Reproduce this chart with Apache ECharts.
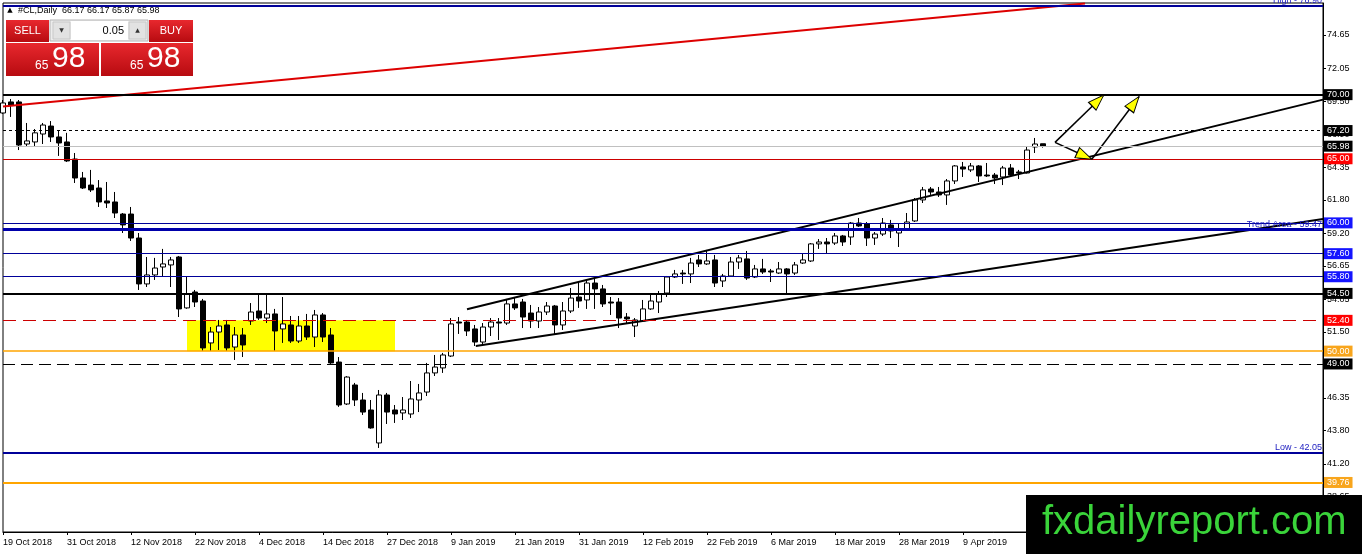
<!DOCTYPE html>
<html>
<head>
<meta charset="utf-8">
<script src="https://cdn.jsdelivr.net/npm/echarts@6/dist/echarts.min.js"></script>
<style>
  html, body { margin: 0; padding: 0; background: #fff; }
  #chart { width: 1362px; height: 554px; }
</style>
</head>
<body>
<div id="chart"></div>
<script>
// ---------- data ----------
var dates = ['19 Oct 2018','22 Oct 2018','23 Oct 2018','24 Oct 2018','25 Oct 2018','26 Oct 2018','29 Oct 2018','30 Oct 2018','31 Oct 2018',
  '1 Nov 2018','2 Nov 2018','5 Nov 2018','6 Nov 2018','7 Nov 2018','8 Nov 2018','9 Nov 2018','12 Nov 2018','13 Nov 2018','14 Nov 2018','15 Nov 2018','16 Nov 2018','19 Nov 2018','20 Nov 2018','21 Nov 2018','22 Nov 2018','23 Nov 2018','26 Nov 2018','27 Nov 2018','28 Nov 2018','29 Nov 2018','30 Nov 2018',
  '3 Dec 2018','4 Dec 2018','5 Dec 2018','6 Dec 2018','7 Dec 2018','10 Dec 2018','11 Dec 2018','12 Dec 2018','13 Dec 2018','14 Dec 2018','17 Dec 2018','18 Dec 2018','19 Dec 2018','20 Dec 2018','21 Dec 2018','24 Dec 2018','26 Dec 2018','27 Dec 2018','28 Dec 2018','31 Dec 2018',
  '2 Jan 2019','3 Jan 2019','4 Jan 2019','7 Jan 2019','8 Jan 2019','9 Jan 2019','10 Jan 2019','11 Jan 2019','14 Jan 2019','15 Jan 2019','16 Jan 2019','17 Jan 2019','18 Jan 2019','21 Jan 2019','22 Jan 2019','23 Jan 2019','24 Jan 2019','25 Jan 2019','28 Jan 2019','29 Jan 2019','30 Jan 2019','31 Jan 2019',
  '1 Feb 2019','4 Feb 2019','5 Feb 2019','6 Feb 2019','7 Feb 2019','8 Feb 2019','11 Feb 2019','12 Feb 2019','13 Feb 2019','14 Feb 2019','15 Feb 2019','18 Feb 2019','19 Feb 2019','20 Feb 2019','21 Feb 2019','22 Feb 2019','25 Feb 2019','26 Feb 2019','27 Feb 2019','28 Feb 2019',
  '1 Mar 2019','4 Mar 2019','5 Mar 2019','6 Mar 2019','7 Mar 2019','8 Mar 2019','11 Mar 2019','12 Mar 2019','13 Mar 2019','14 Mar 2019','15 Mar 2019','18 Mar 2019','19 Mar 2019','20 Mar 2019','21 Mar 2019','22 Mar 2019','25 Mar 2019','26 Mar 2019','27 Mar 2019','28 Mar 2019','29 Mar 2019',
  '1 Apr 2019','2 Apr 2019','3 Apr 2019','4 Apr 2019','5 Apr 2019','8 Apr 2019','9 Apr 2019','10 Apr 2019','11 Apr 2019','12 Apr 2019','15 Apr 2019','16 Apr 2019','17 Apr 2019','18 Apr 2019','22 Apr 2019','23 Apr 2019','24 Apr 2019'];

var opens = [68.57,69.43,69.43,66.15,66.31,66.93,67.55,66.70,66.31,64.98,
  63.50,62.95,62.72,61.71,61.63,60.69,60.69,58.82,55.24,55.94,
  56.56,56.72,57.34,53.37,54.61,53.91,50.64,51.49,52.04,50.32,
  51.26,52.35,53.13,52.58,52.90,51.73,52.04,50.79,51.96,51.10,
  52.82,51.26,49.15,45.88,47.36,46.19,45.41,42.84,46.58,45.41,
  45.18,45.10,46.19,46.81,48.30,48.69,49.62,52.27,52.27,51.73,
  50.71,51.88,52.27,52.19,53.68,53.83,52.97,52.35,53.05,53.52,
  52.04,53.13,54.22,53.99,55.31,54.85,53.83,53.83,52.66,51.96,
  52.35,53.29,53.83,54.53,55.78,56.09,56.02,57.11,56.80,57.11,
  55.47,55.86,56.95,57.19,55.78,56.41,56.25,56.09,56.41,56.09,
  56.87,57.03,58.36,58.51,58.43,58.98,58.90,59.99,59.91,58.82,
  59.13,59.84,59.21,59.45,60.15,61.79,62.64,62.41,62.18,63.27,
  64.36,64.13,64.44,63.73,63.73,63.58,64.28,63.97,63.89,65.92,
  66.17];
var closes = [69.35,69.19,66.07,66.39,67.02,67.63,66.70,66.23,64.83,63.50,
  62.72,62.57,61.63,61.55,60.77,59.84,58.82,55.24,55.94,56.48,
  56.80,57.11,53.29,54.46,53.83,50.25,51.49,51.96,50.25,51.26,
  50.48,53.05,52.58,52.90,51.57,52.12,50.79,51.96,51.10,52.82,
  51.10,49.08,45.80,47.98,46.19,45.25,44.01,46.58,45.25,45.10,
  45.41,46.27,46.74,48.30,48.76,49.70,52.12,52.19,51.57,50.71,
  51.88,52.27,52.19,53.68,53.37,52.66,52.35,53.05,53.52,52.04,
  53.13,54.14,53.91,55.31,54.85,53.68,53.75,52.58,52.51,52.43,
  53.29,53.91,54.46,55.78,56.02,56.02,56.87,56.80,57.03,55.31,
  55.86,56.95,57.27,55.70,56.41,56.17,56.17,56.41,56.02,56.72,
  57.11,58.36,58.51,58.36,58.98,58.51,59.99,59.76,58.82,59.13,
  59.99,59.37,59.45,60.07,61.79,62.57,62.41,62.18,63.27,64.44,
  64.20,64.44,63.66,63.66,63.50,64.28,63.73,63.89,65.68,66.15,
  65.98];
var lows = [68.50,68.26,65.68,65.92,65.92,66.15,66.31,65.22,64.75,63.11,
  62.64,62.41,61.24,61.16,60.38,59.21,58.59,54.77,55.00,55.55,
  55.78,55.00,52.66,53.30,53.44,50.01,50.01,50.09,50.01,49.31,
  49.54,52.04,52.43,52.19,50.01,50.64,50.64,50.64,50.87,50.32,
  50.71,49.00,45.65,45.80,45.72,45.02,43.95,42.45,44.32,44.40,
  44.63,44.79,45.25,46.50,48.06,48.30,49.54,51.34,51.18,50.40,
  50.48,51.18,50.87,52.04,53.21,51.80,51.80,51.80,52.82,51.34,
  51.65,52.97,53.37,53.29,53.29,53.44,52.82,51.80,52.19,51.10,
  52.27,53.21,52.97,54.22,55.70,55.24,55.31,56.56,56.72,55.00,
  55.00,55.78,56.41,55.55,55.70,56.02,55.39,56.02,54.53,55.94,
  56.80,56.95,57.97,57.65,58.28,58.20,58.28,59.68,58.20,58.28,
  58.98,58.82,58.12,59.37,60.07,61.55,62.18,62.02,61.40,63.03,
  63.58,63.97,63.19,63.58,63.03,62.95,63.58,63.42,63.85,65.45,
  65.87];
var highs = [69.58,69.66,69.58,67.79,67.32,67.79,67.94,67.24,67.02,65.45,
  63.97,64.13,63.34,63.19,62.41,60.77,61.24,59.21,57.34,57.27,
  57.97,57.34,57.42,55.78,54.77,54.07,51.88,52.43,52.43,51.88,
  51.80,53.75,54.38,54.46,53.29,54.22,52.74,52.74,52.90,53.21,
  52.97,51.80,49.54,48.05,47.52,46.74,46.19,46.97,46.74,45.80,
  46.42,47.67,47.44,49.08,49.70,49.86,52.58,52.66,52.43,52.04,
  52.19,52.58,52.58,54.07,54.14,54.07,53.60,53.44,53.83,53.60,
  53.83,54.92,55.39,55.55,55.70,55.16,54.22,54.14,52.97,52.58,
  53.99,54.38,54.69,55.86,56.33,56.33,57.27,57.50,57.89,57.50,
  56.02,57.34,57.50,57.81,56.72,57.19,56.41,56.95,56.48,56.95,
  57.58,58.43,58.74,58.82,59.21,59.06,60.07,60.38,60.07,59.29,
  60.38,60.23,59.99,60.77,61.94,62.80,62.80,62.80,63.42,64.51,
  64.75,64.67,64.51,64.67,63.89,64.44,64.59,64.13,65.92,66.62,
  66.17];

var priceTicks = [74.65, 72.05, 69.50, 66.90, 64.35, 61.80, 59.20, 56.65, 54.05, 51.50, 48.90, 46.35, 43.80, 41.20, 38.65];
var levelPrices = [76.90, 70.00, 67.20, 65.98, 65.00, 60.00, 59.47, 57.60, 55.80, 54.50, 52.40, 50.00, 49.00, 42.05, 39.76];
var levelNotes = ['High - 76.90', '', '', '', '', '', 'Trend Area - 59.47', '', '', '', '', '', '', 'Low - 42.05', ''];

// trend lines: [bar index, price]
var channelTop = [[58, 53.26], [165, 69.61]];
var channelBottom = [[59.1, 50.40], [165, 60.30]];
var redTrend = [[0, 69.08], [135.25, 77.10]];
var zoneBox = [[23, 52.40], [49, 50.00]];
// arrows: from, to
var arrows = [
  [[131.5, 66.28], [137.6, 69.97]],
  [[131.5, 66.28], [136.1, 64.96]],
  [[136.1, 64.96], [142.0, 69.84]]
];

var symbolName = '#CL,Daily';
var quote = [66.17, 66.17, 65.87, 65.98];
var lot = '0.05';

// ---------- build ----------
var TOTAL_SLOTS = 166;
var cats = dates.slice();
while (cats.length < TOTAL_SLOTS) cats.push('');

var ohlc = opens.map(function (o, i) { return [o, closes[i], lows[i], highs[i]]; });

var FONT = "'Liberation Sans', Arial, sans-serif";
var NAVY = '#000099';

// style per level, same order as levelPrices
var levelLook = [
  { c: NAVY, w: 2 },
  { c: '#000', w: 2, tag: '#000' },
  { c: '#000', w: 1, dash: [3, 3], tag: '#000' },
  { c: '#c0c0c0', w: 1, tag: '#000' },
  { c: '#cc0000', w: 1, tag: '#ff0000' },
  { c: NAVY, w: 1, tag: '#1414ff' },
  { c: '#0000aa', w: 3 },
  { c: NAVY, w: 1, tag: '#1414ff' },
  { c: NAVY, w: 1, tag: '#1414ff' },
  { c: '#000', w: 2, tag: '#000' },
  { c: '#cc0000', w: 1, dash: [13, 7], tag: '#ff0000' },
  { c: '#ffa500', w: 1.5, tag: '#f8a51c' },
  { c: '#000', w: 1, dash: [12, 6], tag: '#000' },
  { c: NAVY, w: 2 },
  { c: '#ffa500', w: 2, tag: '#f8a51c' }
];

var levelLines = levelPrices.map(function (v, i) {
  var lk = levelLook[i];
  var label;
  if (levelNotes[i]) {
    label = { show: true, position: 'insideEndTop', distance: 1, formatter: levelNotes[i],
      color: '#2020c0', fontSize: 9, fontFamily: FONT };
  } else {
    label = { show: true, position: 'end', distance: 1, formatter: v.toFixed(2),
      color: '#fff', backgroundColor: lk.tag, padding: [1, 3, 0, 3], lineHeight: 10,
      fontSize: 9, fontFamily: FONT };
  }
  return {
    yAxis: v,
    lineStyle: { color: lk.c, width: lk.w, type: lk.dash ? lk.dash : 'solid' },
    label: label
  };
});

function lineSeries(id, pts, color, width, z) {
  return {
    id: id, type: 'line', xAxisIndex: 1, yAxisIndex: 0, data: pts,
    showSymbol: false, symbol: 'none', silent: true, z: z,
    lineStyle: { color: color, width: width }
  };
}

var series = [
  {
    id: 'zone', type: 'line', xAxisIndex: 1, yAxisIndex: 0, data: [], z: 1, silent: true,
    markArea: {
      silent: true,
      itemStyle: { color: '#ffff00', opacity: 1 },
      data: [[{ coord: zoneBox[0] }, { coord: zoneBox[1] }]]
    }
  },
  {
    id: 'candles', type: 'candlestick', data: ohlc, barWidth: 5, z: 2, clip: true,
    itemStyle: { color: '#fff', color0: '#000', borderColor: '#000', borderColor0: '#000', borderWidth: 1 },
    markLine: { silent: true, symbol: ['none', 'none'], animation: false, data: levelLines }
  },
  lineSeries('red', redTrend, '#dd0000', 2, 3),
  lineSeries('chTop', channelTop, '#000', 2, 3),
  lineSeries('chBot', channelBottom, '#000', 2, 3)
];
arrows.forEach(function (a, k) { series.push(lineSeries('arrow' + k, a, '#000', 1.5, 4)); });
series.push({
  id: 'heads', type: 'scatter', xAxisIndex: 1, yAxisIndex: 0, z: 5, silent: true,
  symbol: 'triangle', symbolSize: [11, 16],
  itemStyle: { color: '#ffff00', borderColor: '#000', borderWidth: 1, opacity: 1 },
  data: []
});

var red = new echarts.graphic.LinearGradient(0, 0, 0, 1, [
  { offset: 0, color: '#e8282e' }, { offset: 1, color: '#b70b10' }
]);

function txt(x, y, s, font, fill, align) {
  return { type: 'text', x: x, y: y, z: 100, silent: true,
    style: { text: s, font: font, fill: fill, align: align || 'left', verticalAlign: 'middle' } };
}
function box(x, y, w, h, fill, stroke) {
  return { type: 'rect', z: 100, silent: true, shape: { x: x, y: y, width: w, height: h },
    style: { fill: fill, stroke: stroke || null, lineWidth: 1 } };
}

var priceStr = quote[3].toFixed(2).split('.');

var graphics = [
  txt(10, 10.5, '\u25B2', "7px 'DejaVu Sans'", '#000', 'center'),
  txt(18, 10.5, symbolName + '  ' + quote.map(function (q) { return q.toFixed(2); }).join(' '), '9px ' + FONT, '#000'),
  // sell / buy buttons
  box(6, 20, 43, 22, red),
  txt(27.5, 31, 'SELL', '11px ' + FONT, '#fff', 'center'),
  box(149, 20, 44, 22, red),
  txt(171, 31, 'BUY', '11px ' + FONT, '#fff', 'center'),
  // lot spinner
  box(50, 20, 98, 21, '#ececec', '#b4b4b4'),
  box(53, 22, 17, 17, '#e2e2e2', '#c8c8c8'),
  txt(61.5, 30.5, '\u25BC', "6px 'DejaVu Sans'", '#333', 'center'),
  box(71, 21, 57, 19, '#fff'),
  txt(124, 30.5, lot, '11px ' + FONT, '#000', 'right'),
  box(129, 22, 17, 17, '#e2e2e2', '#c8c8c8'),
  txt(137.5, 30.5, '\u25B2', "6px 'DejaVu Sans'", '#333', 'center'),
  // price boxes
  box(6, 43, 93, 33, red),
  box(101, 43, 92, 33, red),
  { type: 'line', z: 101, silent: true, shape: { x1: 10, y1: 42.5, x2: 46, y2: 42.5 }, style: { stroke: 'rgba(255,255,255,0.55)', lineWidth: 1 } },
  { type: 'line', z: 101, silent: true, shape: { x1: 152, y1: 42.5, x2: 190, y2: 42.5 }, style: { stroke: 'rgba(255,255,255,0.55)', lineWidth: 1 } },
  txt(35, 65.5, priceStr[0], '12px ' + FONT, '#fff'),
  txt(52, 59, priceStr[1], '30px ' + FONT, '#fff'),
  txt(130, 65.5, priceStr[0], '12px ' + FONT, '#fff'),
  txt(147, 59, priceStr[1], '30px ' + FONT, '#fff'),
  // watermark
  box(1026, 495, 336, 59, '#000'),
  txt(1042, 523, 'fxdailyreport.com', '40px ' + FONT, '#3ad43a')
];

function showLabel(i, v) { return i % 8 === 0 && v !== ''; }

var option = {
  animation: false,
  backgroundColor: '#fff',
  grid: { left: 3, right: 39, top: 3, bottom: 22, show: true, borderColor: '#000', borderWidth: 1, backgroundColor: 'transparent' },
  xAxis: [
    {
      type: 'category', data: cats, boundaryGap: false,
      axisLine: { show: true, onZero: false, lineStyle: { color: '#000' } },
      axisTick: { show: true, length: 3, interval: showLabel, lineStyle: { color: '#000' } },
      axisLabel: { interval: showLabel, align: 'left', margin: 6, fontSize: 9, color: '#000', fontFamily: FONT, hideOverlap: false },
      splitLine: { show: false }
    },
    { type: 'value', min: 0, max: TOTAL_SLOTS - 1, show: false }
  ],
  yAxis: {
    type: 'value', position: 'right', min: 35.897, max: 77.145, scale: true,
    splitLine: { show: false },
    axisLine: { show: true, onZero: false, lineStyle: { color: '#000' } },
    axisTick: { show: true, inside: false, length: 3, customValues: priceTicks, lineStyle: { color: '#000' } },
    axisLabel: { customValues: priceTicks, margin: 4, fontSize: 9, color: '#000', fontFamily: FONT,
      formatter: function (v) { return v.toFixed(2); } }
  },
  graphic: { elements: graphics },
  series: series
};

var chart = echarts.init(document.getElementById('chart'));
chart.setOption(option);

// arrow heads pointing along each arrow line
var finder = { xAxisIndex: 1, yAxisIndex: 0 };
var heads = arrows.map(function (a) {
  var p0 = chart.convertToPixel(finder, a[0]);
  var p1 = chart.convertToPixel(finder, a[1]);
  var ang = Math.atan2(p0[1] - p1[1], p1[0] - p0[0]);
  return {
    value: a[1],
    symbolRotate: ang * 180 / Math.PI - 90,
    symbolOffset: [-8 * Math.cos(ang), 8 * Math.sin(ang)]
  };
});
chart.setOption({ series: [{ id: 'heads', data: heads }] });
</script>
</body>
</html>
